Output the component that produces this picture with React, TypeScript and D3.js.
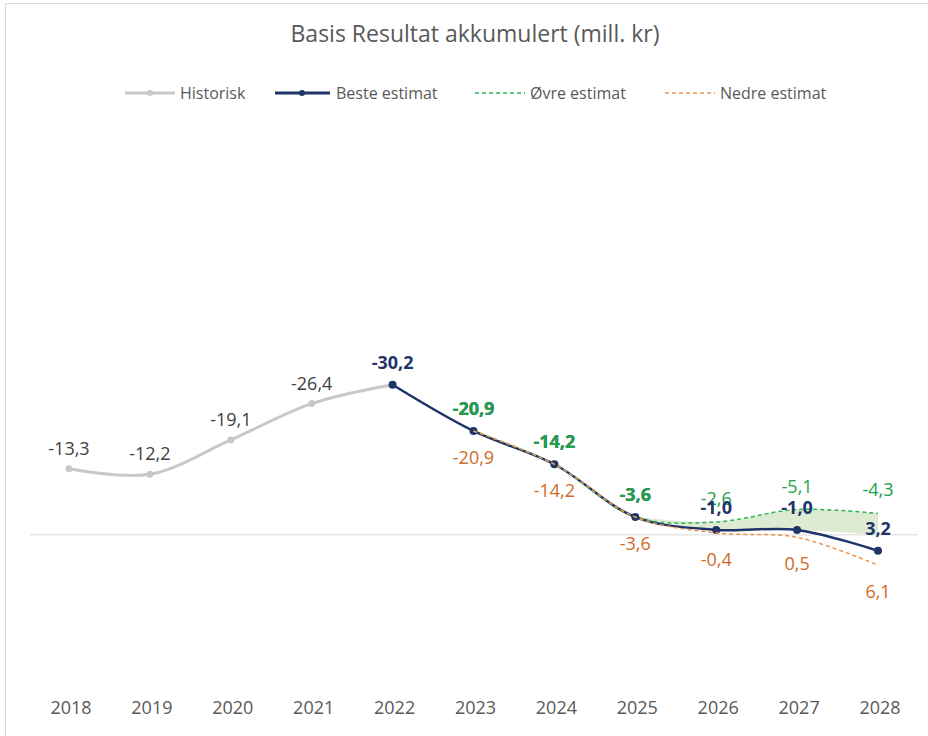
import React from 'react';
import * as d3 from 'd3';

const years = ['2018', '2019', '2020', '2021', '2022', '2023', '2024', '2025', '2026', '2027', '2028'];

const histYears = ['2018', '2019', '2020', '2021', '2022'];
const histValues = [-13.3, -12.2, -19.1, -26.4, -30.2];

const bestYears = ['2022', '2023', '2024', '2025', '2026', '2027', '2028'];
const bestValues = [-30.2, -20.9, -14.2, -3.6, -1.0, -1.0, 3.2];

const estYears = ['2023', '2024', '2025', '2026', '2027', '2028'];
const upperValues = [-20.9, -14.2, -3.6, -2.6, -5.1, -4.3];
const lowerValues = [-20.9, -14.2, -3.6, -0.4, 0.5, 6.1];

const legendNames = ['Historisk', 'Beste estimat', 'Øvre estimat', 'Nedre estimat'];

const title = 'Basis Resultat akkumulert (mill. kr)';

const FONT = "'Open Sans', 'Liberation Sans', Arial, sans-serif";
const GREY = '#c8c8c8';
const NAVY = '#1f3468';
const GREEN = '#2eb356';
const GREEN_TXT = '#22a04a';
const ORANGE = '#f0924a';
const ORANGE_TXT = '#cf6a26';

const fmt = (v: number) => v.toFixed(1).replace('.', ',');

export default function App() {
  const width = 928;
  const height = 736;

  const x = d3.scalePoint<string>().domain(years).range([69, 878]);
  const y = d3.scaleLinear().domain([-40, 30]).range([336, 684]);

  const curve = d3.curveCatmullRom.alpha(0.5);

  const hist = histYears.map((yr, i) => ({ yr, v: histValues[i] }));
  const best = bestYears.map((yr, i) => ({ yr, v: bestValues[i] }));
  const upper = estYears.map((yr, i) => ({ yr, v: upperValues[i] }));
  const lower = estYears.map((yr, i) => ({ yr, v: lowerValues[i] }));

  const line = d3
    .line<{ yr: string; v: number }>()
    .x(d => x(d.yr) as number)
    .y(d => y(d.v))
    .curve(curve);

  // shaded band between upper estimate and best estimate (clipped at zero)
  const bandData = estYears
    .map((yr, i) => ({ yr, hi: upperValues[i], lo: Math.min(bestValues[bestYears.indexOf(yr)], 0) }))
    .filter(d => d.hi !== d.lo || d.yr === '2025');
  const band = d3
    .area<{ yr: string; hi: number; lo: number }>()
    .x(d => x(d.yr) as number)
    .y0(d => y(d.lo))
    .y1(d => y(d.hi))
    .curve(curve);

  const legendX = [125, 275, 475, 665];
  const labelSize = 18;
  const sameAsBest = (d: { yr: string; v: number }) => d.v === bestValues[bestYears.indexOf(d.yr)];

  return (
    <svg
      width={width}
      height={height}
      style={{ position: 'absolute', left: 0, top: 0, background: '#fff' }}
      fontFamily={FONT}
    >
      <rect x={5.5} y={3.5} width={940} height={760} fill="#fff" stroke="#d9d9d9" />

      <text x={475} y={42} textAnchor="middle" fontSize={23} fill="#595959">
        {title}
      </text>

      {/* legend */}
      {legendNames.map((name, i) => {
        const lx = legendX[i];
        const ly = 93;
        let sample;
        if (i === 0)
          sample = (
            <g>
              <line x1={lx} x2={lx + 50} y1={ly} y2={ly} stroke={GREY} strokeWidth={3} />
              <circle cx={lx + 25} cy={ly} r={3} fill={GREY} />
            </g>
          );
        else if (i === 1)
          sample = (
            <g>
              <line x1={lx} x2={lx + 55} y1={ly} y2={ly} stroke={NAVY} strokeWidth={3} />
              <circle cx={lx + 27} cy={ly} r={3} fill={NAVY} />
            </g>
          );
        else
          sample = (
            <line
              x1={lx}
              x2={lx + 50}
              y1={ly}
              y2={ly}
              stroke={i === 2 ? GREEN : ORANGE}
              strokeWidth={1.5}
              strokeDasharray="4,3"
            />
          );
        return (
          <g key={name}>
            {sample}
            <text x={lx + (i === 1 ? 61 : 55)} y={ly + 6} fontSize={16} fill="#595959">
              {name}
            </text>
          </g>
        );
      })}

      {/* zero line */}
      <line x1={30} x2={918} y1={y(0)} y2={y(0)} stroke="#d9d9d9" strokeWidth={1} />

      <path d={band(bandData) || ''} fill="#dcebd2" />

      <path d={line(hist) || ''} fill="none" stroke={GREY} strokeWidth={3} />
      {hist.map(d => (
        <circle key={'h' + d.yr} cx={x(d.yr)} cy={y(d.v)} r={3.5} fill={GREY} />
      ))}

      <path d={line(best) || ''} fill="none" stroke={NAVY} strokeWidth={2.5} />
      {best.map(d => (
        <circle key={'b' + d.yr} cx={x(d.yr)} cy={y(d.v)} r={4} fill={NAVY} />
      ))}

      <path d={line(upper) || ''} fill="none" stroke={GREEN} strokeWidth={1.5} strokeDasharray="4,3" />
      <path d={line(lower) || ''} fill="none" stroke={ORANGE} strokeWidth={1.5} strokeDasharray="4,3" />

      {/* labels */}
      {hist
        .filter(d => !bestYears.includes(d.yr))
        .map(d => (
          <text key={'hl' + d.yr} x={x(d.yr)} y={y(d.v) - 14} textAnchor="middle" fontSize={labelSize} fill="#404040">
            {fmt(d.v)}
          </text>
        ))}
      {lower.map(d => (
        <text key={'ll' + d.yr} x={x(d.yr)} y={y(d.v) + 33} textAnchor="middle" fontSize={labelSize} fill={ORANGE_TXT}>
          {fmt(d.v)}
        </text>
      ))}
      {upper
        .filter(d => !sameAsBest(d))
        .map(d => (
          <text key={'ul' + d.yr} x={x(d.yr)} y={y(d.v) - 17} textAnchor="middle" fontSize={labelSize} fill={GREEN_TXT}>
            {fmt(d.v)}
          </text>
        ))}
      {best.map(d => (
        <text
          key={'bl' + d.yr}
          x={x(d.yr)}
          y={y(d.v) - 16}
          textAnchor="middle"
          fontSize={labelSize}
          fontWeight="bold"
          fill={NAVY}
        >
          {fmt(d.v)}
        </text>
      ))}
      {upper.filter(sameAsBest).map(d => (
        <text
          key={'ue' + d.yr}
          x={x(d.yr)}
          y={y(d.v) - 16}
          textAnchor="middle"
          fontSize={labelSize}
          fontWeight="bold"
          fill={GREEN_TXT}
        >
          {fmt(d.v)}
        </text>
      ))}

      {/* x axis labels */}
      {years.map(yr => (
        <text key={yr} x={(x(yr) as number) + 2} y={714} textAnchor="middle" fontSize={18} fill="#595959">
          {yr}
        </text>
      ))}
    </svg>
  );
}
